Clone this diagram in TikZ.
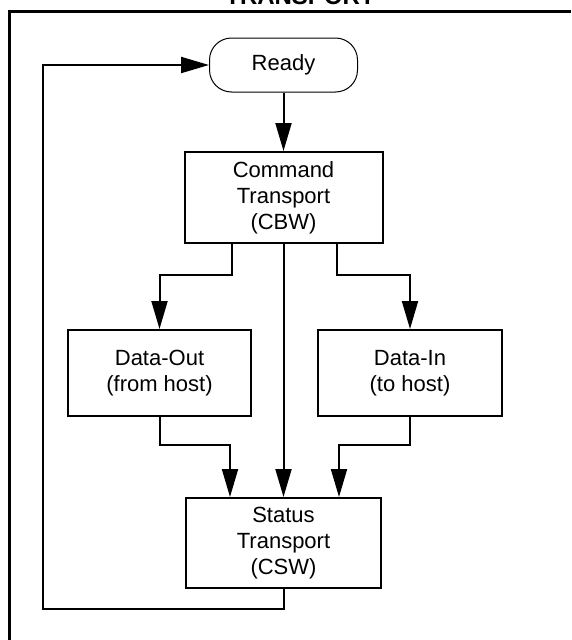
\documentclass[tikz,border=0pt]{standalone}
\usepackage{fontspec}
\setmainfont{Liberation Sans}
\usetikzlibrary{arrows.meta}

\begin{document}
\begin{tikzpicture}[x=1pt,y=1pt,
  box/.style={draw, line width=2pt, inner sep=0pt, align=center,
    font=\fontsize{22}{26}\selectfont},
  flow/.style={line width=2pt, -{Triangle[length=28pt,width=16pt]}},
  frame/.style={line width=3pt},
  heading/.style={font=\bfseries\fontsize{24}{28}\selectfont, anchor=base, inner sep=0pt}]

  \useasboundingbox (0,0) rectangle (571,-640);
  \clip (0,0) rectangle (571,-640);

  % heading and outer frame
  \node[heading] (title) at (300,-4) {TRANSPORT};
  \draw[frame] (571,-11) -- (9,-11) -- (9,-640);

  % states
  \node[draw, line width=1pt, rounded corners=22pt, minimum width=148pt,
        minimum height=54pt, inner sep=0pt, font=\fontsize{22}{26}\selectfont]
        (ready) at (283.5,-65) {Ready};
  \node[box, minimum width=198pt, minimum height=91pt] (cmd) at (283.5,-197.5)
        {Command\\Transport\\(CBW)};
  \node[box, minimum width=183pt, minimum height=86pt] (dout) at (159.5,-373)
        {Data-Out\\(from host)};
  \node[box, minimum width=184pt, minimum height=86pt] (din) at (410,-373)
        {Data-In\\(to host)};
  \node[box, minimum width=195pt, minimum height=90pt] (stat) at (283.5,-543)
        {Status\\Transport\\(CSW)};

  \coordinate (loop) at (43,-609);

  % transitions
  \draw[flow] (ready.south) -- (cmd.north);
  \draw[flow] ([xshift=-51.5pt]cmd.south) -- ++(0,-31) -| (dout.north);
  \draw[flow] ([xshift=53.5pt]cmd.south) -- ++(0,-31) -| (din.north);
  \draw[flow] (cmd.south) -- (stat.north);
  \draw[flow] (dout.south) -- ++(0,-28) -| ([xshift=-53.5pt]stat.north);
  \draw[flow] (din.south) -- ++(0,-28) -| ([xshift=55.5pt]stat.north);
  \draw[flow] (stat.south) |- (loop) |- (ready.west);
\end{tikzpicture}
\end{document}
